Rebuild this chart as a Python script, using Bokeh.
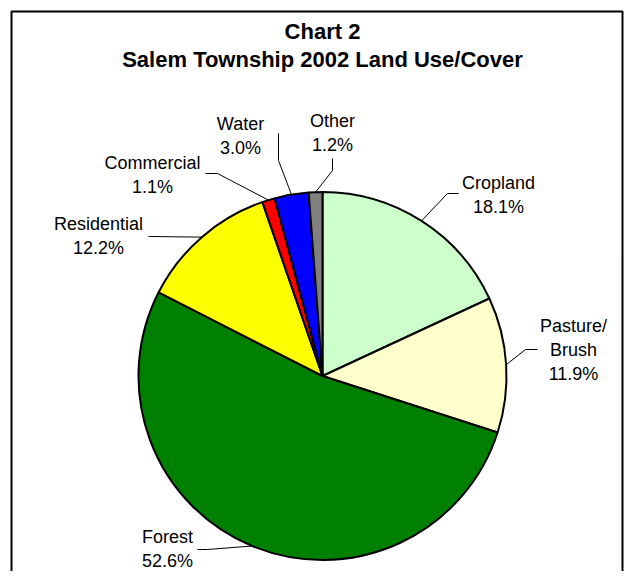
import math
from bokeh.plotting import figure
from bokeh.models import Range1d, ColumnDataSource
from bokeh.core.properties import value
from bokeh.embed import file_html
from bokeh.resources import INLINE

# ---- data ----
categories = ["Cropland", "Pasture/Brush", "Forest", "Residential", "Commercial", "Water", "Other"]
shares = [18.1, 11.9, 52.6, 12.2, 1.1, 3.0, 1.2]
label_lines = [["Cropland"], ["Pasture/", "Brush"], ["Forest"], ["Residential"],
               ["Commercial"], ["Water"], ["Other"]]
title_lines = ["Chart 2", "Salem Township 2002 Land Use/Cover"]

# ---- styles / layout ----
colors = ["#CCFFCC", "#FFFFCC", "#008000", "#FFFF00", "#FF0000", "#0000FF", "#808080"]
W, H = 624, 571
CX, CY, R = 322, 375.5, 184          # picture pixel coords
LINE_H = 24
# label centre x, first-line y, elbow point, end point (picture pixels)
label_pos = [(498, 182), (573, 325), (167, 536), (98, 223), (152, 162), (240, 123), (332, 120)]
elbows = [(447, 193), (525, 349), (207, 549), (150, 236), (217, 173), (278, 160), (332, 170)]
ends = [(458, 193), (537, 349), (197, 549), (148, 236), (205, 173), (278, 133), (332, 158)]

p = figure(width=W, height=H, output_backend="svg", toolbar_location=None,
           x_range=Range1d(0, W), y_range=Range1d(-H, 0),
           min_border=0, outline_line_color=None, background_fill_color="white",
           border_fill_color="white")
p.axis.visible = False
p.grid.visible = False

# chart border (open at the bottom, as in the reference crop)
p.line([11, 11, W - 2, W - 2], [-(H + 20), -11, -11, -(H + 20)],
       line_color="black", line_width=2)

total = sum(shares)
starts, endsA, mids = [], [], []
cum = 0.0
for s in shares:
    a0 = math.pi / 2 - 2 * math.pi * cum / total
    cum += s
    a1 = math.pi / 2 - 2 * math.pi * cum / total
    starts.append(a0)
    endsA.append(a1)
    mids.append((a0 + a1) / 2)

src = ColumnDataSource(dict(start=starts, end=endsA, color=colors, cat=categories))
p.wedge(x=CX, y=-CY, radius=R, start_angle="start", end_angle="end", direction="clock",
        fill_color="color", line_color="black", line_width=2, source=src)

# leader lines
for i, m in enumerate(mids):
    ex = CX + R * math.cos(m)
    ey = CY - R * math.sin(m)
    xs = [ex, elbows[i][0], ends[i][0]]
    ys = [-ey, -elbows[i][1], -ends[i][1]]
    p.line(xs, ys, line_color="black", line_width=1)

# labels
tx, ty, tt = [], [], []
for i, lines in enumerate(label_lines):
    x0, y0 = label_pos[i]
    allines = lines + [f"{shares[i]:.1f}%"]
    for k, t in enumerate(allines):
        tx.append(x0)
        ty.append(-(y0 + k * LINE_H))
        tt.append(t)
p.text(x=tx, y=ty, text=tt, text_align="center", text_baseline="middle",
       text_font=value("Liberation Sans"), text_font_size=value("18px"), text_color="black")

# title
p.text(x=[CX, CX], y=[-31, -59], text=title_lines, text_align="center", text_baseline="middle",
       text_font=value("Liberation Sans"), text_font_size=value("22px"),
       text_font_style="bold", text_color="black")

open("out.html", "w").write(file_html(p, INLINE))
